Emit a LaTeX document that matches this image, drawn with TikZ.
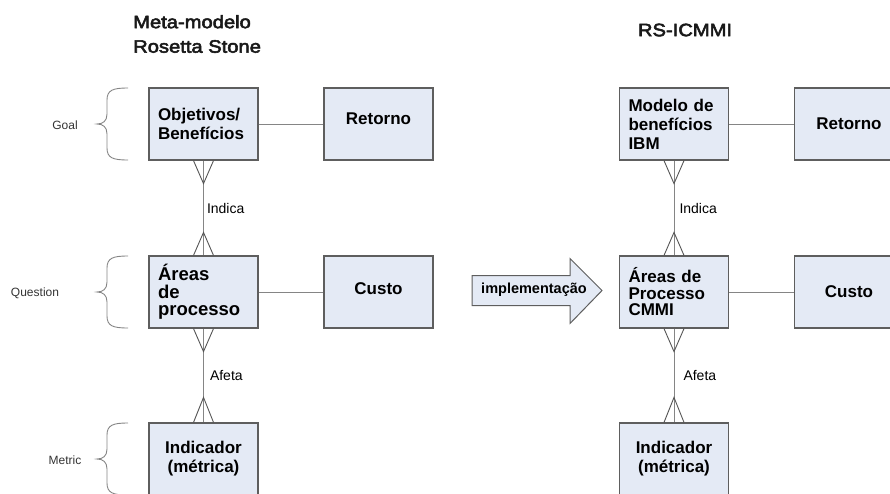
\documentclass[tikz,border=0pt]{standalone}
\usepackage{fontspec}
\setmainfont{Liberation Sans}
\newfontfamily\titlefont[FakeStretch=1.12, FakeBold=3]{Liberation Sans}
\usetikzlibrary{calc}

\definecolor{boxfill}{HTML}{E4EAF5}
\definecolor{boxline}{HTML}{5E5E5E}
\definecolor{linkline}{HTML}{858585}
\definecolor{footline}{HTML}{555555}
\definecolor{sidetext}{HTML}{333333}

% crow's foot: #1 = box anchor, #2 = length of the foot towards the other box
\newcommand\crowfoot[2]{%
  \draw[foot] ($(#1)+(-10,0)$) -- ($(#1)+(0,#2)$) -- ($(#1)+(10,0)$);}
% curly brace on the left of a row: #1 = top y, #2 = bottom y
\newcommand\sidebrace[2]{%
  \draw[brace] (128,#1) .. controls (113,#1) and (107,#1+2) .. (107,#1+12)
    -- (107,{(#1+#2)/2-10}) .. controls (107,{(#1+#2)/2-3}) and (103,{(#1+#2)/2}) .. (97,{(#1+#2)/2})
    .. controls (103,{(#1+#2)/2}) and (107,{(#1+#2)/2+3}) .. (107,{(#1+#2)/2+10})
    -- (107,#2-12) .. controls (107,#2-2) and (113,#2) .. (128,#2);}

\begin{document}
\begin{tikzpicture}[x=1pt,y=-1pt,
  entity/.style={draw=boxline, line width=1.2pt, fill=boxfill,
    minimum width=109pt, minimum height=72pt, inner sep=0pt,
    text width=91pt, align=left,
    font=\bfseries\fontsize{17}{19}\selectfont},
  centred/.style={entity, align=center},
  link/.style={draw=linkline, line width=1pt},
  foot/.style={draw=footline, line width=0.9pt},
  brace/.style={draw=linkline, line width=0.9pt},
  relname/.style={anchor=west, inner sep=0pt, font=\fontsize{14}{16}\selectfont},
  layer/.style={inner sep=0pt, text=sidetext, font=\fontsize{12}{14}\selectfont},
  heading/.style={inner sep=0pt, align=left, text=black!90, font=\titlefont\fontsize{18}{24.5}\selectfont},
  bigarrow/.style={draw=boxline, line width=1pt, fill=boxfill, line join=miter}
]
\useasboundingbox (0,0) rectangle (890,493);
\clip (0,0) rectangle (890,493);

% headings
\node[heading, anchor=west] (hmeta) at (133,34) {Meta-modelo\\Rosetta Stone};
\node[heading] (hrs) at (685,30) {RS-ICMMI};

% layer braces and names
\sidebrace{88}{160}
\sidebrace{256}{328}
\sidebrace{423}{495}
\node[layer] (lgoal) at (65,125) {Goal};
\node[layer] (lquestion) at (35,293) {Question};
\node[layer] (lmetric) at (65,460) {Metric};

% meta-model column
\node[entity] (obj) at (203.5,124) {Objetivos/\\Benefícios};
\node[centred] (ret1) at (378.5,124) {Retorno\\[-9pt]\mbox{}};
\node[entity, font=\bfseries\fontsize{18.5}{17.5}\selectfont] (areas) at (203.5,292) {Áreas\\de\\processo};
\node[centred] (cus1) at (378.5,292) {Custo\\[-12pt]\mbox{}};
\node[centred] (ind1) at (203.5,459) {Indicador\\(métrica)};

% RS-ICMMI column
\node[entity] (ibm) at (674,124) {Modelo de\\benefícios\\IBM};
\node[centred] (ret2) at (849,124) {Retorno};
\node[entity, font=\bfseries\fontsize{17}{16.5}\selectfont] (cmmi) at (674,292) {Áreas de\\Processo\\CMMI};
\node[centred] (cus2) at (849,292) {Custo};
\node[centred] (ind2) at (674,459) {Indicador\\(métrica)};

% one-to-one links
\draw[link] (obj) -- (ret1);
\draw[link] (areas) -- (cus1);
\draw[link] (ibm) -- (ret2);
\draw[link] (cmmi) -- (cus2);

% many-to-many links
\draw[link] (obj.south) -- (areas.north) node[midway, relname, xshift=3pt] (r1) {Indica};
\draw[link] (areas.south) -- (ind1.north) node[midway, relname, xshift=6pt] (r2) {Afeta};
\draw[link] (ibm.south) -- (cmmi.north) node[midway, relname, xshift=5pt] (r3) {Indica};
\draw[link] (cmmi.south) -- (ind2.north) node[midway, relname, xshift=9pt] (r4) {Afeta};
\crowfoot{obj.south}{23}
\crowfoot{areas.north}{-23}
\crowfoot{areas.south}{23}
\crowfoot{ind1.north}{-25}
\crowfoot{ibm.south}{23}
\crowfoot{cmmi.north}{-23}
\crowfoot{cmmi.south}{23}
\crowfoot{ind2.north}{-25}

% implementation arrow
\coordinate (atail) at (472,290.5);
\draw[bigarrow] ($(atail)+(0,-15)$) -- ++(98,0) -- ++(0,-17) -- ($(atail)+(130,0)$)
  -- ($(atail)+(98,33)$) -- ++(0,-18) -- ($(atail)+(0,15)$) -- cycle;
\node[inner sep=0pt, font=\bfseries\fontsize{14.5}{16}\selectfont] (impl) at (534,290) {implementação};
\end{tikzpicture}
\end{document}
